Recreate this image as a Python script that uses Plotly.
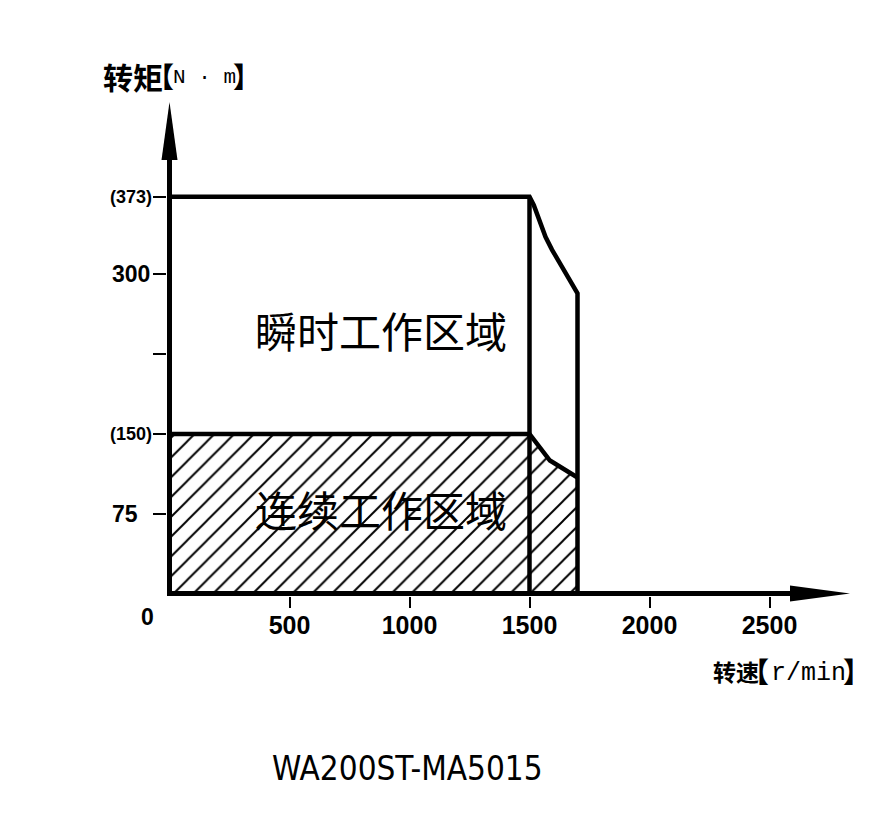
import plotly.graph_objects as go

# ---------------- data ----------------
rated_speed = 1500
max_speed = 1700
peak_speed = [0, 1500, 1518, 1539, 1567, 1594, 1629, 1664, 1689, 1700]
peak_torque = [373, 373, 365, 351, 335, 323, 309, 295, 286, 282]
cont_speed = [0, 1500, 1585, 1700]
cont_torque = [150, 150, 125, 109]
x_tick_vals = [500, 1000, 1500, 2000, 2500]
x_tick_text = ["500", "1000", "1500", "2000", "2500"]
y_tick_vals = [75, 150, 225, 300, 373]
y_tick_text = ["75", "(150)", "", "300", "(373)"]
region_labels = ["瞬时工作区域", "连续工作区域"]
region_label_x = [880, 880]
region_label_y = [248, 80]
y_title = "转矩"
y_unit = "N · m"
x_title = "转速"
x_unit = "r/min"
model_name = "WA200ST-MA5015"

# ---------------- geometry / style ----------------
OFF = 8                        # browser body margin
W, H = 879 - 2 * OFF, 839 - 2 * OFF


def fx(px):                    # reference pixel x -> paper x
    return (px - OFF) / W


def fy(py):                    # reference pixel y -> paper y
    return 1 - (py - OFF) / H


OX, OY = 169.5, 593.5          # reference pixel position of the origin
XS, YS = 0.24, 1.064           # pixels per unit
AW = 5                         # axis line width
x_dom_ref = (OX - AW / 2, 822)
y_dom_ref = (OY + AW / 2, 125)
x_range = [(x_dom_ref[0] - OX) / XS, (x_dom_ref[1] - OX) / XS]
y_range = [(OY - y_dom_ref[0]) / YS, (OY - y_dom_ref[1]) / YS]

NUM = "Liberation Sans, Arial, sans-serif"
CAP = "DejaVu Sans Condensed, Liberation Sans, sans-serif"
CJK = "Noto Sans CJK SC, sans-serif"
MONO = "Liberation Mono, DejaVu Sans Mono, monospace"
LINE_W = 4.5

fig = go.Figure()

# hatched continuous region
fig.add_trace(go.Scatter(
    x=[0] + cont_speed + [max_speed],
    y=[0] + cont_torque + [0],
    mode="lines", fill="toself",
    fillcolor="rgba(0,0,0,0)",
    fillpattern=dict(shape="/", size=14, solidity=0.14,
                     fgcolor="black", bgcolor="rgba(0,0,0,0)", fgopacity=1),
    line=dict(width=0, color="rgba(0,0,0,0)"),
    hoverinfo="skip",
))
# peak outline
fig.add_trace(go.Scatter(
    x=peak_speed + [max_speed], y=peak_torque + [0],
    mode="lines", line=dict(color="black", width=LINE_W), hoverinfo="skip",
))
# continuous outline
fig.add_trace(go.Scatter(
    x=cont_speed, y=cont_torque,
    mode="lines", line=dict(color="black", width=LINE_W), hoverinfo="skip",
))
# rated speed vertical
fig.add_trace(go.Scatter(
    x=[rated_speed, rated_speed], y=[0, peak_torque[1]],
    mode="lines", line=dict(color="black", width=LINE_W), hoverinfo="skip",
))

annotations = []
# y tick labels
y_label_gap = [30, 16, 0, 18, 16]
for v, t, g in zip(y_tick_vals, y_tick_text, y_label_gap):
    if not t:
        continue
    annotations.append(dict(
        x=0, y=v, xref="x", yref="y", text=t, showarrow=False,
        xanchor="right", yanchor="middle", xshift=-g,
        font=dict(family=NUM, size=18 if t.startswith("(") else 23,
                  color="black", weight="bold"),
    ))
# origin label
annotations.append(dict(
    x=0, y=0, xref="x", yref="y", text="0", showarrow=False,
    xanchor="center", yanchor="middle", xshift=-22, yshift=-23,
    font=dict(family=NUM, size=23, color="black", weight="bold"),
))
# region labels
for t, lx, ly in zip(region_labels, region_label_x, region_label_y):
    annotations.append(dict(
        x=lx, y=ly, xref="x", yref="y", text=t, showarrow=False,
        xanchor="center", yanchor="middle",
        font=dict(family=CJK, size=42, color="black"),
    ))


def title_parts(word, unit, left, yc, word_size, unit_size, unit_center,
                lb_right, rb_left, br_size):
    return [
        dict(x=fx(left), y=fy(yc), xref="paper", yref="paper", showarrow=False,
             xanchor="left", yanchor="middle", text=word, borderpad=0,
             font=dict(family=CJK, size=word_size, color="black", weight="bold")),
        dict(x=fx(lb_right), y=fy(yc), xref="paper", yref="paper", showarrow=False,
             xanchor="right", yanchor="middle", text="【", borderpad=0,
             font=dict(family=CJK, size=br_size, color="black", weight="bold")),
        dict(x=fx(unit_center), y=fy(yc + 2), xref="paper", yref="paper", showarrow=False,
             xanchor="center", yanchor="middle", text=unit, borderpad=0,
             font=dict(family=MONO, size=unit_size, color="black")),
        dict(x=fx(rb_left), y=fy(yc), xref="paper", yref="paper", showarrow=False,
             xanchor="left", yanchor="middle", text="】", borderpad=0,
             font=dict(family=CJK, size=br_size, color="black", weight="bold")),
    ]


annotations += title_parts(y_title, y_unit, 102, 76, 30, 21, 204, 175, 232, 28)
annotations += title_parts(x_title, x_unit, 712, 671, 23, 25, 808, 770, 842, 28)

# model caption
annotations.append(dict(
    x=fx(407.5), y=fy(768), xref="paper", yref="paper", showarrow=False,
    xanchor="center", yanchor="middle", text=model_name,
    font=dict(family=CAP, size=33, color="black"),
))

shapes = [
    # y-axis arrow head
    dict(type="path", xref="paper", yref="paper", xsizemode="pixel", ysizemode="pixel",
         xanchor=fx(OX), yanchor=fy(102), path="M0,0 L-8,-58 L8,-58 Z",
         fillcolor="black", line=dict(width=0)),
    # x-axis arrow head
    dict(type="path", xref="paper", yref="paper", xsizemode="pixel", ysizemode="pixel",
         xanchor=fx(850), yanchor=fy(OY), path="M0,0 L-60,8 L-60,-8 Z",
         fillcolor="black", line=dict(width=0)),
]

fig.update_layout(
    width=W, height=H, autosize=False,
    margin=dict(l=0, r=0, t=0, b=0),
    paper_bgcolor="white", plot_bgcolor="white",
    showlegend=False, hovermode=False,
    annotations=annotations, shapes=shapes,
    xaxis=dict(
        domain=[fx(x_dom_ref[0]), fx(x_dom_ref[1])], range=x_range,
        showgrid=False, showline=False,
        zeroline=True, zerolinecolor="black", zerolinewidth=AW,
        tickmode="array", tickvals=x_tick_vals, ticktext=x_tick_text,
        ticks="outside", ticklen=11, tickwidth=1.5, tickcolor="black",
        ticklabelstandoff=-4,
        tickfont=dict(family=NUM, size=25, color="black", weight="bold"),
        fixedrange=True,
    ),
    yaxis=dict(
        domain=[fy(y_dom_ref[0]), fy(y_dom_ref[1])], range=y_range,
        showgrid=False, showline=False,
        zeroline=True, zerolinecolor="black", zerolinewidth=AW,
        tickmode="array", tickvals=y_tick_vals, ticktext=[""] * len(y_tick_vals),
        ticks="outside", ticklen=13, tickwidth=1.5, tickcolor="black",
        showticklabels=False,
        fixedrange=True,
    ),
)

fig.write_html("out.html")
